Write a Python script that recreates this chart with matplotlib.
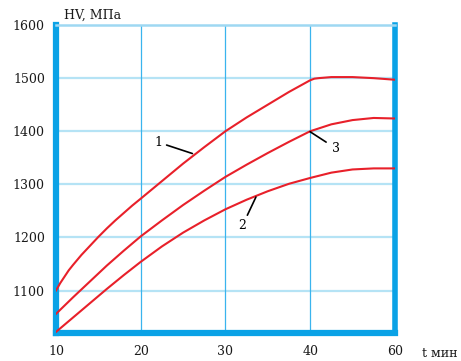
import matplotlib.pyplot as plt
import numpy as np

# curve 1
t1 = [10, 10.5, 11, 11.5, 12, 13, 14, 15, 16, 17, 18, 19, 20, 22.5, 25, 27.5, 30, 32.5, 35, 37.5, 40, 41, 42, 45, 50, 55, 60]
hv1 = [1100, 1114, 1126, 1138, 1148, 1167, 1184, 1201, 1217, 1232, 1246, 1260, 1273, 1306, 1339, 1370, 1400, 1426, 1450, 1474, 1496, 1499, 1500, 1502, 1502, 1500, 1497]
# curve 2
t2 = [10, 12, 14, 16, 18, 20, 22.5, 25, 27.5, 30, 32.5, 35, 37.5, 40, 45, 50, 55, 60]
hv2 = [1022, 1049, 1076, 1103, 1129, 1154, 1183, 1209, 1232, 1253, 1271, 1287, 1301, 1312, 1322, 1328, 1330, 1330]
# curve 3
t3 = [10, 12, 14, 16, 18, 20, 22.5, 25, 27.5, 30, 32.5, 35, 37.5, 40, 45, 50, 55, 60]
hv3 = [1056, 1087, 1117, 1147, 1175, 1202, 1232, 1261, 1288, 1314, 1337, 1359, 1380, 1400, 1413, 1421, 1425, 1424]

xticks = [10, 20, 30, 40, 60]
yticks = [1100, 1200, 1300, 1400, 1500, 1600]


# axis is squeezed after 40 min (40..60 takes the space of 10 min)
def fwd(t):
    t = np.asarray(t, dtype=float)
    return np.where(t <= 40, t, 40 + (t - 40) / 2)


def inv(x):
    x = np.asarray(x, dtype=float)
    return np.where(x <= 40, x, 40 + (x - 40) * 2)


plt.rcParams['font.family'] = ['DejaVu Serif']

fig = plt.figure(figsize=(4.61, 3.61), dpi=100)
ax = fig.add_axes([0.1215, 0.0776, 0.735, 0.853])
ax.set_xscale('function', functions=(fwd, inv))

red = '#e8202a'
for t, hv in ((t1, hv1), (t2, hv2), (t3, hv3)):
    ax.plot(t, hv, color=red, lw=1.5, zorder=3, solid_joinstyle='round')

ax.set_xlim(10, 60)
ax.set_ylim(1020, 1600)
ax.set_xticks(xticks)
ax.set_yticks(yticks)
ax.tick_params(length=0, labelsize=9, colors='#1a1a1a')
ax.tick_params(axis='y', pad=8)
ax.tick_params(axis='x', pad=9)

for y in yticks[:-1]:
    ax.axhline(y, color='#b5e3f5', lw=1.6, zorder=1)
for x in [20, 30, 40]:
    ax.axvline(x, color='#3ab4ee', lw=0.9, zorder=1)

blue = '#0aa2e6'
ax.spines['left'].set_linewidth(4.5)
ax.spines['bottom'].set_linewidth(4.5)
ax.spines['right'].set_linewidth(4)
ax.spines['top'].set_linewidth(1.8)
for s in ('left', 'bottom', 'right'):
    ax.spines[s].set_color(blue)
ax.spines['top'].set_color('#9ed8f2')

# curve labels with leader lines
ax.annotate('1', xy=(26.1, 1358), xytext=(22.1, 1379), fontsize=9,
            ha='center', va='center',
            arrowprops=dict(arrowstyle='-', color='black', lw=1.2, shrinkA=1, shrinkB=0))
ax.annotate('2', xy=(33.6, 1276), xytext=(32.0, 1222), fontsize=9,
            ha='center', va='center',
            arrowprops=dict(arrowstyle='-', color='black', lw=1.2, shrinkA=1, shrinkB=0))
ax.annotate('3', xy=(40.0, 1399), xytext=(46.2, 1367), fontsize=9,
            ha='center', va='center',
            arrowprops=dict(arrowstyle='-', color='black', lw=1.2, shrinkA=3, shrinkB=0))

fig.text(0.139, 0.958, 'HV, МПа', fontsize=9, ha='left', va='center', color='#1a1a1a')
fig.text(0.915, 0.022, 't мин', fontsize=9, ha='left', va='center', color='#1a1a1a')

fig.savefig('out.png', dpi=100)
